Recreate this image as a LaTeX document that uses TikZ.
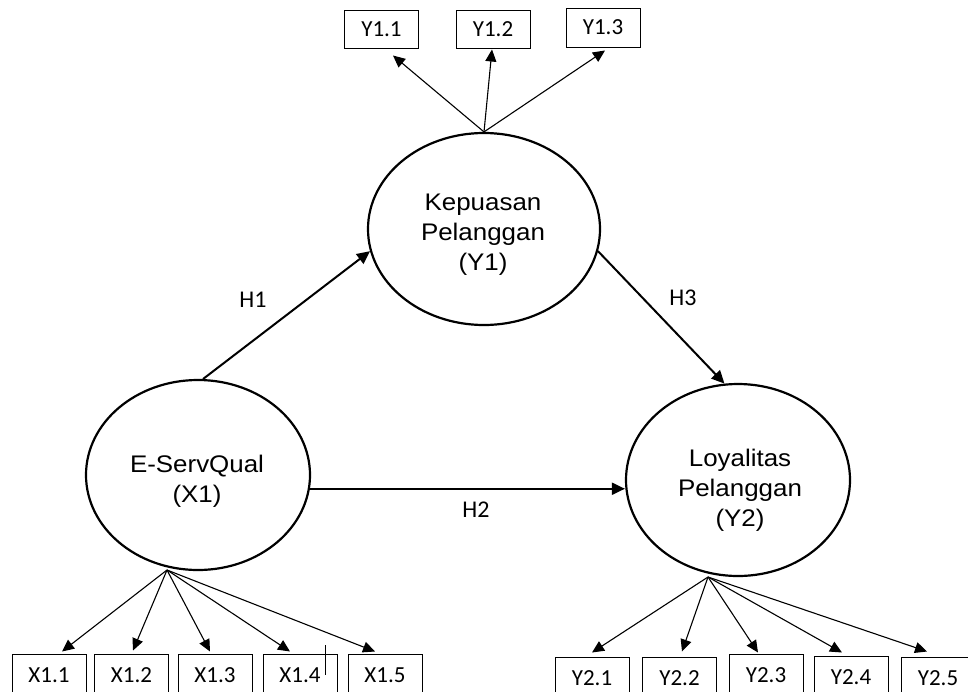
\documentclass[tikz,border=0pt]{standalone}
\usepackage{fontspec}
\setmainfont{Liberation Sans}
\newfontfamily\boxfont{Carlito}
\newfontfamily\ellfont[FakeStretch=1.08]{Liberation Sans}
\usetikzlibrary{arrows.meta,shapes.geometric}
\begin{document}
\begin{tikzpicture}[x=1pt,y=-1pt,
  latent/.style={ellipse, draw, line width=2.2pt, inner sep=0pt},
  elltext/.style={align=center, inner sep=0pt, font=\ellfont\fontsize{24}{30}\selectfont},
  ind/.style={draw, line width=1pt, minimum width=74pt, minimum height=38pt, inner sep=0pt, font=\boxfont\fontsize{23}{27}\selectfont},
  indb/.style={ind, minimum height=42pt},
  load/.style={line width=1.1pt, -{Triangle[length=12pt,width=11pt]}},
  mainpath/.style={line width=2pt, -{Triangle[length=13pt,width=12pt]}},
  hlab/.style={font=\boxfont\fontsize{24}{28}\selectfont}]
\useasboundingbox (0,0) rectangle (968,691);
\clip (0,0) rectangle (968,691);
\fill[white] (0,0) rectangle (968,691);

% latent variables
\node[latent, minimum width=232pt, minimum height=192pt] (y1) at (484,229) {};
\node[latent, minimum width=224pt, minimum height=190pt] (x1) at (198,475) {};
\node[latent, minimum width=224pt, minimum height=192pt] (y2) at (738,480) {};
\node[elltext] (y1t) at (483,235) {Kepuasan\\Pelanggan\\(Y1)};
\node[elltext] (x1t) at (197,481) {E-ServQual\\(X1)};
\node[elltext] (y2t) at (740,490) {Loyalitas\\Pelanggan\\(Y2)};

% indicators Y1
\node[ind] (y11) at (381.5,29) {Y1.1};
\node[ind] (y12) at (493,29) {Y1.2};
\node[ind, minimum height=39pt] (y13) at (603,27.5) {Y1.3};

% indicators X1
\node[indb] (x11) at (49,675) {X1.1};
\node[indb] (x12) at (131.5,675) {X1.2};
\node[indb] (x13) at (215,675) {X1.3};
\node[indb] (x14) at (300,675) {X1.4\hspace{6pt}};
\node[indb] (x15) at (385,675) {X1.5};

% indicators Y2
\node[indb] (y21) at (592,678) {Y2.1};
\node[indb] (y22) at (679.5,678) {Y2.2};
\node[indb] (y23) at (766,675) {Y2.3};
\node[indb] (y24) at (851,677) {Y2.4};
\node[indb] (y25) at (938,678) {Y2.5};

% source points of loadings
\coordinate (x1src) at (167,570);
\coordinate (y2src) at (708,577);

% loadings Y1
\draw[load] (y1.north) -- ([shift={(11.5,7)}]y11.south);
\draw[load] (y1.north) -- ([shift={(-1,1)}]y12.south);
\draw[load] (y1.north) -- ([shift={(2,3)}]y13.south);

% loadings X1
\draw[load] (x1src) -- ([shift={(13,-2)}]x11.north);
\draw[load] (x1src) -- ([shift={(1.5,-3)}]x12.north);
\draw[load] (x1src) -- ([shift={(-5,-2)}]x13.north);
\draw[load] (x1src) -- ([shift={(-10,-2)}]x14.north);
\draw[load] (x1src) -- ([shift={(-10,-2)}]x15.north);

% loadings Y2
\draw[load] (y2src) -- ([shift={(0,-4)}]y21.north);
\draw[load] (y2src) -- ([shift={(2.5,-5)}]y22.north);
\draw[load] (y2src) -- ([shift={(-8,-1)}]y23.north);
\draw[load] (y2src) -- ([shift={(-9,-3)}]y24.north);
\draw[load] (y2src) -- ([shift={(-11,-5)}]y25.north);

% structural paths
\draw[mainpath] (x1.87) -- (y1.191);
\draw[mainpath] (y1.-11) -- (y2.98);
\draw[mainpath] (x1.-7) -- (x1.-7 -| y2.west);

\node[hlab] (h1) at (253,300) {H1};
\node[hlab] (h3) at (683,298) {H3};
\node[hlab] (h2) at (476,510) {H2};

% text cursor mark
\draw[line width=1pt] (325,645) -- (325,675);
\end{tikzpicture}
\end{document}
